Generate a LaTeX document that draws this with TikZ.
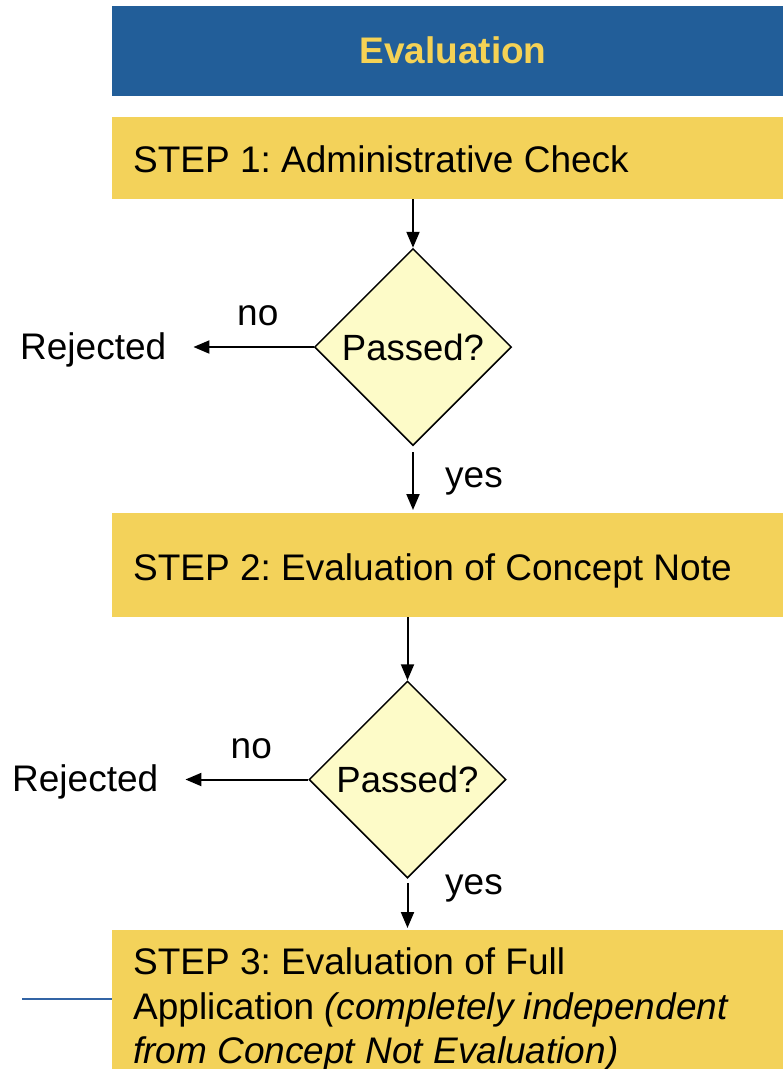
\documentclass[tikz,border=0pt]{standalone}
\usepackage{fontspec}
\setmainfont{Liberation Sans}
\usetikzlibrary{shapes.geometric,arrows.meta}
\definecolor{headblue}{RGB}{34,94,153}
\definecolor{stepgold}{RGB}{243,210,90}
\definecolor{titlegold}{RGB}{245,210,85}
\definecolor{decisionfill}{RGB}{253,251,200}
\definecolor{rulecol}{RGB}{50,100,165}
\frenchspacing

\begin{document}
\begin{tikzpicture}[x=1pt,y=-1pt,
  band/.style={draw=none, rectangle, inner sep=0, anchor=north west, minimum width=671pt},
  txt/.style={inner sep=0, font=\fontsize{37}{44.5}\selectfont},
  decision/.style={diamond, draw=black, line width=1.5pt, fill=decisionfill, inner sep=0,
    minimum width=197pt, minimum height=197pt, font=\fontsize{36.5}{42}\selectfont},
  arr/.style={-{Triangle[length=16pt,width=13pt]}, line width=2pt},
]
\useasboundingbox (0,0) rectangle (783,1069);

% header band
\node[band, fill=headblue, minimum height=90pt] (head) at (112,6) {};
\node[inner sep=0, text=titlegold, font=\bfseries\fontsize{37}{44}\selectfont] (title) at (453,50) {Evaluation};

% step 1
\node[band, fill=stepgold, minimum height=82pt] (s1) at (112,117) {};
\node[txt, anchor=base west] (t1) at (133,172) {STEP 1: Administrative Check};

% first decision
\node[decision] (d1) at (413,347) {Passed?};
\node[txt, anchor=base west] (r1) at (20,359) {Rejected};
\node[txt, anchor=base west] (y1) at (445,487) {yes};

% step 2
\node[band, fill=stepgold, minimum height=104pt] (s2) at (112,513) {};
\node[txt, anchor=base west] (t2) at (133,580) {STEP 2: Evaluation of Concept Note};

% second decision
\node[decision] (d2) at (407.5,779.5) {Passed?};
\node[txt, anchor=base west] (r2) at (12,791) {Rejected};
\node[txt, anchor=base west] (y2) at (445,894) {yes};

% step 3 with the side rule beneath it
\coordinate (rulestart) at (22,999);
\draw[rulecol, line width=2.5pt] (rulestart) -- (rulestart -| 112,0);
\node[band, fill=stepgold, minimum height=145pt] (s3) at (112,930) {};
\node[txt, anchor=base west] (t3a) at (133,974) {STEP 3: Evaluation of Full};
\node[txt, anchor=base west] (t3b) at (133,1019) {Application \textit{(completely independent}};
\node[txt, anchor=base west] (t3c) at (133,1063) {\textit{from Concept Not Evaluation)}};

% connectors
\draw[arr] (d1.north |- s1.south) -- (d1.north);
\draw[arr, shorten >=27pt] (d1.west) -- (d1.west -| r1.east)
  node[txt, pos=0.38, above=20pt] (n1) {no};
\draw[arr, shorten <=6pt, shorten >=3pt] (d1.south) -- (d1.south |- s2.north);

\draw[arr] (d2.north |- s2.south) -- (d2.north);
\draw[arr, shorten >=27pt] (d2.west) -- (d2.west -| r2.east)
  node[txt, pos=0.38, above=20pt] (n2) {no};
\draw[arr, shorten <=4pt, shorten >=2pt] (d2.south) -- (d2.south |- s3.north);
\end{tikzpicture}
\end{document}
